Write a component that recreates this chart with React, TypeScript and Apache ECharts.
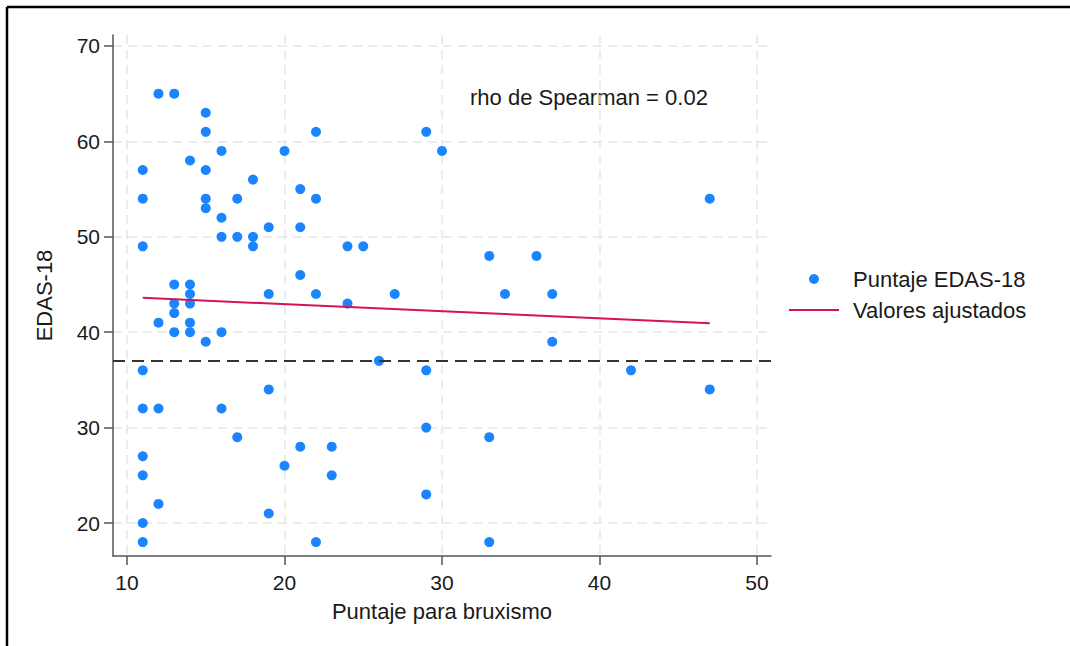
import React, { useEffect, useRef } from "react";
import * as echarts from "echarts";

const bruxismo = [
  12, 13, 15, 15, 22, 16, 20, 14, 11, 15, 18, 21, 11, 15, 17, 22, 15, 16, 19, 21,
  16, 17, 18, 18, 11, 21, 13, 14, 14, 19, 22, 13, 14, 13, 12, 14, 13, 14, 16, 15,
  11, 19, 11, 12, 16, 17, 21, 23, 11, 20, 11, 23, 12, 19, 11, 11, 22, 29, 30, 24,
  25, 33, 36, 24, 27, 34, 37, 37, 26, 29, 29, 33, 29, 33, 47, 42, 47,
];
const edas = [
  65, 65, 63, 61, 61, 59, 59, 58, 57, 57, 56, 55, 54, 54, 54, 54, 53, 52, 51, 51,
  50, 50, 50, 49, 49, 46, 45, 45, 44, 44, 44, 43, 43, 42, 41, 41, 40, 40, 40, 39,
  36, 34, 32, 32, 32, 29, 28, 28, 27, 26, 25, 25, 22, 21, 20, 18, 18, 61, 59, 49,
  49, 48, 48, 43, 44, 44, 44, 39, 37, 36, 30, 29, 23, 18, 54, 36, 34,
];
const fitX = [11, 47];
const fitY = [43.6, 40.95];
const cutoff = 37;
const xTicks = [10, 20, 30, 40, 50];
const yTicks = [20, 30, 40, 50, 60, 70];
const rhoLabel = "rho de Spearman = 0.02";

export default function App() {
  const ref = useRef<HTMLDivElement>(null);
  useEffect(() => {
    if (!ref.current) return;
    const chart = echarts.init(ref.current, null, { renderer: "svg" });
    const font = "'Liberation Sans', Arial, sans-serif";
    const gridLine = { show: true, lineStyle: { color: "#e6e6e6", width: 1.5, type: [9, 6] } };
    chart.setOption({
      animation: false,
      backgroundColor: "#fff",
      textStyle: { fontFamily: font },
      grid: { left: 113, top: 35, width: 658, height: 521, containLabel: false },
      xAxis: {
        type: "value",
        min: 9.111,
        max: 50.889,
        name: "Puntaje para bruxismo",
        nameLocation: "middle",
        nameGap: 44,
        nameTextStyle: { fontSize: 22, color: "#1a1a1a", fontFamily: font },
        axisLine: { show: true, lineStyle: { color: "#555", width: 1.5 } },
        axisTick: { show: true, customValues: xTicks, length: 9, lineStyle: { color: "#555", width: 1.5 } },
        axisLabel: { customValues: xTicks, fontSize: 21, color: "#1a1a1a", margin: 16, fontFamily: font },
        splitLine: gridLine,
      },
      yAxis: {
        type: "value",
        min: 16.541,
        max: 71.153,
        name: "EDAS-18",
        nameLocation: "middle",
        nameRotate: 90,
        nameGap: 58,
        nameTextStyle: { fontSize: 22, color: "#1a1a1a", fontFamily: font },
        axisLine: { show: true, lineStyle: { color: "#555", width: 1.5 } },
        axisTick: { show: true, customValues: yTicks, length: 9, lineStyle: { color: "#555", width: 1.5 } },
        axisLabel: { customValues: yTicks, fontSize: 21, color: "#1a1a1a", margin: 13, fontFamily: font },
        splitLine: gridLine,
      },
      legend: {
        orient: "vertical",
        left: 788,
        top: 268,
        padding: 0,
        itemWidth: 50,
        itemHeight: 10,
        itemGap: 9,
        textStyle: { fontSize: 22, color: "#1a1a1a", fontFamily: font, padding: [0, 0, 0, 9], lineHeight: 22 },
        data: [
          { name: "Puntaje EDAS-18", icon: "circle" },
          { name: "Valores ajustados", itemStyle: { opacity: 0 } },
        ],
      },
      graphic: [
        {
          type: "text",
          left: 470,
          top: 86,
          style: { text: rhoLabel, fontSize: 22, fill: "#1a1a1a", fontFamily: font },
        },
        { type: "line", shape: { x1: 7, y1: 7, x2: 1070, y2: 7 }, style: { stroke: "#000", lineWidth: 2.5 } },
        { type: "line", shape: { x1: 7, y1: 7, x2: 7, y2: 646 }, style: { stroke: "#000", lineWidth: 2.5 } },
      ],
      series: [
        {
          name: "Puntaje EDAS-18",
          type: "scatter",
          symbol: "circle",
          symbolSize: 10,
          itemStyle: { color: "#1a85ff", opacity: 1 },
          data: bruxismo.map((x, i) => [x, edas[i]]),
          z: 3,
          markLine: {
            silent: true,
            symbol: "none",
            label: { show: false },
            lineStyle: { color: "#333", width: 2, type: [12, 7] },
            data: [{ yAxis: cutoff }],
          },
        },
        {
          name: "Valores ajustados",
          type: "line",
          showSymbol: false,
          symbol: "none",
          lineStyle: { color: "#d51159", width: 2 },
          itemStyle: { color: "#d51159" },
          data: fitX.map((x, i) => [x, fitY[i]]),
          z: 4,
        },
      ],
    });
    return () => chart.dispose();
  }, []);
  return (
    <div
      ref={ref}
      style={{ position: "absolute", left: 0, top: 0, width: 1070, height: 646, background: "#fff" }}
    />
  );
}
